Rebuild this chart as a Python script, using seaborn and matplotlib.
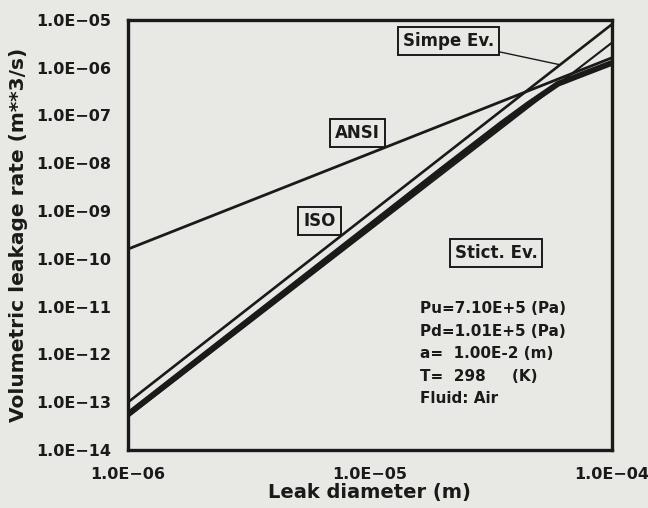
import matplotlib
matplotlib.use("Agg")
import matplotlib.pyplot as plt
import matplotlib.ticker as mticker
import seaborn as sns
import pandas as pd

# Data (leak diameter in m, leakage rate in m**3/s)
diam_ansi = [1e-6, 1e-4]
rate_ansi = [1.6e-10, 1.6e-6]

diam_iso = [1e-6, 1e-4]
rate_iso = [1.0e-13, 8.0e-6]

diam_simpe = [1e-6, 1e-4]
rate_simpe = [5.0e-14, 3.3e-6]

diam_stict = [1e-6, 1e-5, 2e-5, 3.5e-5, 4.5e-5, 6e-5, 8e-5, 1e-4]
rate_stict = [5.6e-14, 4.9e-10, 7.6e-9, 6.7e-8, 1.7e-7, 4.6e-7, 8.1e-7, 1.25e-6]

xticks = [1e-6, 1e-5, 1e-4]
yticks = [1e-14, 1e-13, 1e-12, 1e-11, 1e-10, 1e-9, 1e-8, 1e-7, 1e-6, 1e-5]

conditions = ["Pu=7.10E+5 (Pa)", "Pd=1.01E+5 (Pa)", "a=  1.00E-2 (m)",
              "T=  298     (K)", "Fluid: Air"]

sns.set_style("white")
plt.rcParams["font.family"] = ["DejaVu Sans"]
plt.rcParams["font.weight"] = "bold"

ink = "#1a1a1a"
bg = "#e8e8e5"
fig = plt.figure(figsize=(6.48, 5.08), dpi=100, facecolor=bg)
ax = fig.add_axes([0.1975, 0.114, 0.7465, 0.847])
ax.set_facecolor(bg)

series = [
    (diam_ansi, rate_ansi, 2.0),
    (diam_iso, rate_iso, 1.9),
    (diam_simpe, rate_simpe, 1.5),
    (diam_stict, rate_stict, 4.2),
]
for d, q, lw in series:
    df = pd.DataFrame({"d": d, "q": q})
    sns.lineplot(data=df, x="d", y="q", ax=ax, color=ink, lw=lw,
                 estimator=None, sort=False)

ax.set_xscale("log")
ax.set_yscale("log")
ax.set_xlim(1e-6, 1e-4)
ax.set_ylim(1e-14, 1e-5)

ax.xaxis.set_major_locator(mticker.FixedLocator(xticks))
ax.yaxis.set_major_locator(mticker.FixedLocator(yticks))
ax.xaxis.set_minor_locator(mticker.NullLocator())
ax.yaxis.set_minor_locator(mticker.NullLocator())
sci = mticker.FuncFormatter(lambda v, p: f"{v:.1E}".replace("-", "\u2212"))
ax.xaxis.set_major_formatter(sci)
ax.yaxis.set_major_formatter(sci)

ax.tick_params(axis="y", direction="in", length=5, width=1.2, pad=12,
               labelsize=11.5, colors=ink)
ax.tick_params(axis="x", direction="in", length=0, pad=12,
               labelsize=11.5, colors=ink)
for lab in ax.get_xticklabels() + ax.get_yticklabels():
    lab.set_fontweight("bold")

for s in ax.spines.values():
    s.set_linewidth(2.4)
    s.set_color(ink)

ax.set_xlabel("Leak diameter (m)", fontsize=14, fontweight="bold",
              labelpad=1, color=ink)
ax.set_ylabel("Volumetric leakage rate (m**3/s)", fontsize=14.5,
              fontweight="bold", labelpad=6, color=ink)

box = dict(boxstyle="square,pad=0.3", fc=bg, ec=ink, lw=1.4)
lab_kw = dict(fontsize=12, fontweight="bold", ha="left", va="center",
              color=ink, bbox=box)
ax.text(7.2e-6, 4.3e-8, "ANSI", **lab_kw)
ax.text(5.3e-6, 6.2e-10, "ISO", **lab_kw)
ax.text(2.24e-5, 1.34e-10, "Stict. Ev.", **lab_kw)
ax.annotate("Simpe Ev.", xy=(6.1e-5, 1.15e-6), xytext=(1.37e-5, 3.6e-6),
            arrowprops=dict(arrowstyle="-", color=ink, lw=1.0,
                            shrinkA=0, shrinkB=0), **lab_kw)

ax.text(0.603, 0.346, "\n".join(conditions), transform=ax.transAxes,
        fontsize=11, fontweight="bold", ha="left", va="top",
        linespacing=1.62, color=ink)

fig.savefig("out.png", dpi=100, facecolor=bg)
